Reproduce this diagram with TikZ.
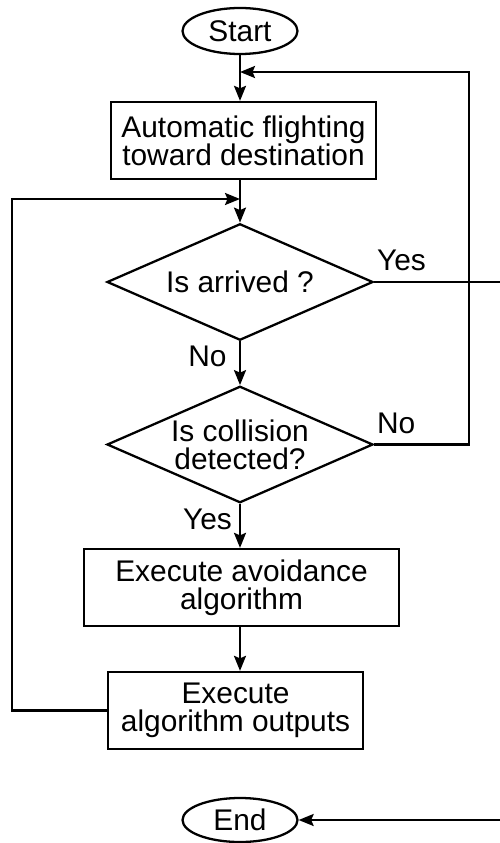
\documentclass[tikz,border=0pt]{standalone}
\usepackage{fontspec}
\setmainfont{Liberation Sans}
\usepackage{tikz}
\usetikzlibrary{shapes.geometric, arrows.meta, positioning, calc}

\begin{document}
\begin{tikzpicture}[
    font=\fontsize{17}{16}\selectfont,
    line width=1.3pt,
    terminale/.style={ellipse,draw,inner sep=0pt,minimum width=2.3cm,minimum height=0.92cm},
    blocco/.style={rectangle,draw,align=center,minimum height=1.54cm,inner sep=2pt},
    decisione/.style={diamond,draw,align=center,inner xsep=-0.4cm,inner ysep=0pt,shape aspect=2.28,minimum width=5.32cm,minimum height=2.33cm},
    etichetta/.style={inner sep=2pt},
    freccia/.style={-{Stealth[length=3mm,width=2.4mm,inset=0.5mm]}}
]
    % Area del disegno
    \useasboundingbox (0,0) rectangle (10,-16.86);
    \clip (0,0) rectangle (10,-16.86);

    % Blocchi
    \node[terminale] (inizio) at (4.8,-0.62) {Start};
    \node[blocco,minimum width=5.3cm] (volo) at (4.87,-2.81) {Automatic flighting\\toward destination};
    \node[decisione] (arrivo) at (4.8,-5.64) {Is arrived ?};
    \node[decisione] (collisione) at (4.8,-8.89) {Is collision\\detected?};
    \node[blocco,minimum width=6.3cm] (evitamento) at (4.83,-11.75) {Execute avoidance\\algorithm};
    \node[blocco,minimum width=5.1cm] (uscite) at (4.71,-14.21) {Execute\\algorithm outputs};
    \node[terminale,minimum height=0.88cm] (fine) at (4.8,-16.4) {End};

    % Punti di rientro
    \coordinate (ritorno) at (4.8,-1.44);
    \coordinate (unione) at (4.8,-3.98);

    % Frecce principali
    \draw[freccia] (inizio.south) -- (inizio |- volo.north);
    \draw[freccia] (inizio |- volo.south) -- (arrivo.north);
    \draw[freccia] (arrivo.south) -- (collisione.north);
    \draw[freccia] (collisione.south) -- (collisione |- evitamento.north);
    \draw[freccia] (collisione |- evitamento.south) -- (collisione |- uscite.north);

    % Anelli di ritorno
    \draw[freccia] (collisione.east) -- ++(1.9,0) |- (ritorno);
    \draw[freccia] (uscite.west) -- ++(-1.9,0) |- (unione);
    \draw[freccia] (arrivo.east) -- ++(2.8,0) |- (fine.east);

    % Etichette
    \node[etichetta,anchor=south west,inner ysep=5.5pt,inner xsep=1pt] (si1) at (arrivo.east) {Yes};
    \node[etichetta,anchor=north east,xshift=-5pt] (no1) at (arrivo.south) {No};
    \node[etichetta,anchor=south west,inner ysep=5.5pt,inner xsep=1pt] (no2) at (collisione.east) {No};
    \node[etichetta,anchor=north east,xshift=-2pt] (si2) at (collisione.south) {Yes};
\end{tikzpicture}
\end{document}
